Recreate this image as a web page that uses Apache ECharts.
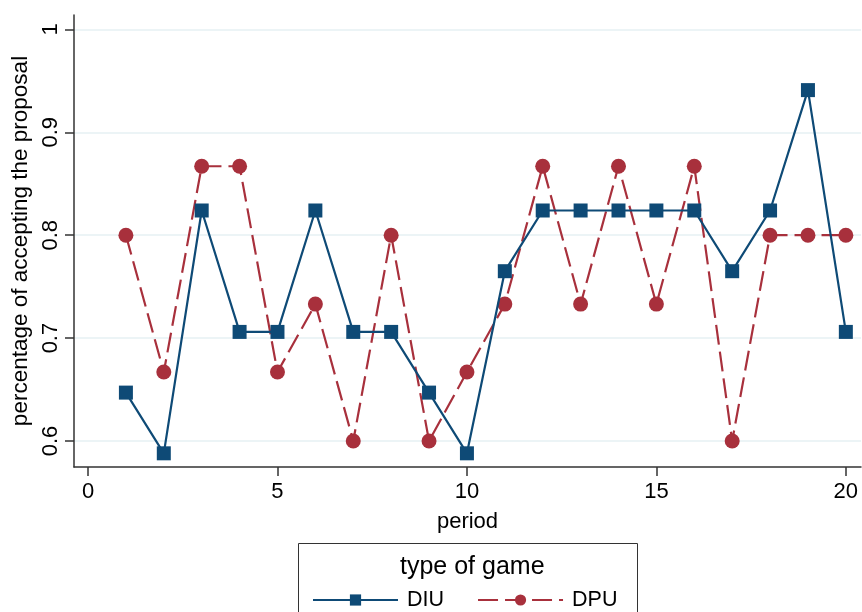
<!DOCTYPE html>
<html>
<head>
<meta charset="utf-8">
<script src="https://cdn.jsdelivr.net/npm/echarts@6/dist/echarts.min.js"></script>
<style>html,body{margin:0;padding:0;background:#fff;}#c{width:862px;height:612px;}</style>
</head>
<body>
<div id="c"></div>
<script>
var periods = [1,2,3,4,5,6,7,8,9,10,11,12,13,14,15,16,17,18,19,20];
var diu = [0.647,0.588,0.824,0.706,0.706,0.824,0.706,0.706,0.647,0.588,0.765,0.824,0.824,0.824,0.824,0.824,0.765,0.824,0.941,0.706];
var dpu = [0.800,0.667,0.867,0.867,0.667,0.733,0.600,0.800,0.600,0.667,0.733,0.867,0.733,0.867,0.733,0.867,0.600,0.800,0.800,0.800];
var xTicks = [0,5,10,15,20];
var yTicks = [0.6,0.7,0.8,0.9,1];

var navy = '#0e4a76';
var maroon = '#a8303c';
var font = 'Liberation Sans, Arial, sans-serif';

function pairs(v){ return periods.map(function(p,i){ return [p, v[i]]; }); }

var chart = echarts.init(document.getElementById('c'), null, {renderer:'canvas'});
chart.setOption({
  backgroundColor: '#fff',
  animation: false,
  textStyle: {fontFamily: font},
  title: {
    text: 'type of game',
    left: 395, top: 550,
    textStyle: {fontSize: 25, fontWeight: 'normal', color: '#000', fontFamily: font}
  },
  graphic: [{
    type: 'rect', shape: {x: 298.5, y: 543.5, width: 339, height: 80},
    style: {fill: 'none', stroke: '#333', lineWidth: 1}, z: 0
  }],
  legend: {
    data: ['DIU','DPU'],
    left: 307, top: 584,
    itemWidth: 85, itemHeight: 14, itemGap: 33,
    textStyle: {fontSize: 21.5, color: '#000', fontFamily: font, padding: [0,0,0,4]}
  },
  grid: {left: 74, right: 1, top: 15, bottom: 145, containLabel: false, outerBoundsMode: 'none'},
  xAxis: {
    type: 'value', min: -0.37, max: 20.4,
    name: 'period', nameLocation: 'middle', nameGap: 44,
    nameTextStyle: {fontSize: 22, color: '#000', fontFamily: font},
    axisLine: {show: true, onZero: false, lineStyle: {color: '#333', width: 1.5}},
    axisTick: {show: true, length: 9, lineStyle: {color: '#333', width: 1.5},
      customValues: xTicks},
    axisLabel: {fontSize: 22, color: '#000', margin: 14, customValues: xTicks, fontFamily: font,
      showMinLabel: true, showMaxLabel: true},
    splitLine: {show: false}
  },
  yAxis: {
    type: 'value', min: 0.5747, max: 1.014,
    name: 'percentage of accepting the proposal', nameLocation: 'middle', nameGap: 41,
    nameRotate: 90,
    nameTextStyle: {fontSize: 22.5, color: '#000', fontFamily: font},
    axisLine: {show: true, onZero: false, lineStyle: {color: '#333', width: 1.5}},
    axisTick: {show: true, length: 9, lineStyle: {color: '#333', width: 1.5}, customValues: yTicks},
    axisLabel: {fontSize: 22, color: '#000', rotate: 90, margin: 12, customValues: yTicks, fontFamily: font,
      formatter: function(v){ return String(Math.round(v*10)/10); }},
    splitLine: {show: true, lineStyle: {color: '#e6f0f3', width: 1.5}, customValues: yTicks}
  },
  series: [
    {
      name: 'DIU', type: 'line', data: pairs(diu),
      symbol: 'rect', symbolSize: 14,
      itemStyle: {color: navy},
      lineStyle: {color: navy, width: 2.2},
      z: 3
    },
    {
      name: 'DPU', type: 'line', data: pairs(dpu),
      symbol: 'circle', symbolSize: 15,
      itemStyle: {color: maroon},
      lineStyle: {color: maroon, width: 2.2, type: [20, 7]},
      z: 2
    }
  ]
});
</script>
</body>
</html>
